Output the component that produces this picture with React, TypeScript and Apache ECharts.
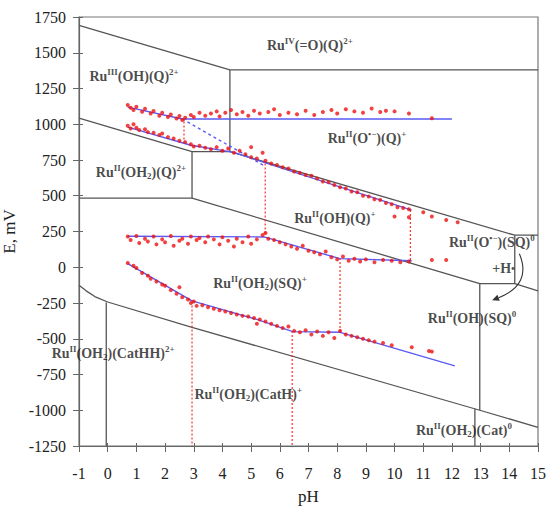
import React, { useEffect, useRef } from "react";
import * as echarts from "echarts";

// ---------- boundary lines of the Pourbaix diagram (pH, E/mV) ----------
const boundaryTop = [[-1, 1692], [4.26, 1380], [15, 1380]];
const boundaryTopVert = [[4.26, 1380], [4.26, 808]];
const boundaryB = [[-1, 1042], [2.94, 808], [4.26, 808], [14.19, 224], [15, 224]];
const boundaryBVert = [[14.19, 224], [14.19, -115]];
const boundaryQ2Box = [[-1, 483], [2.94, 483], [2.94, 808]];
const boundaryC = [[2.94, 483], [12.97, -115], [14.19, -115], [15, -165]];
const boundaryCVert = [[12.97, -115], [12.97, -1000]];
const boundaryD = [[-1, -126], [-0.75, -165], [-0.45, -205], [0, -243], [2.94, -420], [12.97, -1000], [15, -1119]];
const boundaryPh0 = [[-0.05, -246], [-0.05, -1250]];
const boundaryCat = [[12.8, -990], [12.8, -1250]];

// ---------- red dotted guide lines ----------
const guide1 = [[2.66, 1020], [2.66, 862]];
const guide2 = [[5.49, 725], [5.49, 235]];
const guide3 = [[10.55, 400], [10.55, 35]];
const guide4 = [[8.1, 65], [8.1, -455]];
const guide5 = [[2.94, -240], [2.94, -1250]];
const guide6 = [[6.43, -445], [6.43, -1250]];

// ---------- blue fitted lines ----------
const fitUpper = [[0.7, 1120], [2.6, 1037], [12, 1037]];
const fitUpperDash = [[2.6, 1037], [5.5, 705]];
const fitMiddle = [[0.7, 980], [2.9, 853], [4.4, 803], [5.5, 730], [10.6, 400]];
const fitThird = [[0.7, 217], [5.45, 212], [8.1, 60], [10.6, 45]];
const fitLower = [[0.7, 25], [2.94, -235], [5.2, -365], [6.45, -450], [8.1, -455], [12.1, -690]];

// ---------- measured points ----------
const ptsUpper = [
  [0.7, 1135], [0.8, 1115], [0.9, 1100], [1.0, 1122], [1.2, 1088], [1.3, 1108], [1.5, 1075], [1.6, 1093],
  [1.8, 1060], [1.9, 1080], [2.1, 1050], [2.2, 1068], [2.4, 1040], [2.5, 1058], [2.6, 1030], [2.7, 1046],
  [2.9, 1065], [3.0, 1050], [3.2, 1080], [3.4, 1060], [3.6, 1075], [3.8, 1090], [3.9, 1055], [4.1, 1080],
  [4.3, 1100], [4.5, 1070], [4.7, 1085], [4.9, 1060], [5.1, 1095], [5.3, 1075], [5.6, 1085], [5.8, 1105],
  [6.0, 1065], [6.3, 1080], [6.6, 1070], [6.9, 1095], [7.2, 1065], [7.5, 1085], [7.8, 1100], [8.0, 1075],
  [8.3, 1105], [8.6, 1090], [8.9, 1080], [9.2, 1110], [9.5, 1085], [9.7, 1095], [10.0, 1090], [10.5, 1075],
  [11.3, 1042],
];
const ptsMiddle = [
  [0.7, 990], [0.8, 970], [0.9, 1000], [1.0, 975], [1.1, 960], [1.3, 965], [1.4, 945], [1.6, 940],
  [1.8, 925], [1.9, 935], [2.1, 910], [2.3, 900], [2.5, 885], [2.7, 875], [2.9, 860], [3.0, 845],
  [3.2, 850], [3.4, 835], [3.6, 825], [3.8, 840], [4.0, 815], [4.2, 830], [4.4, 800], [4.6, 815],
  [4.8, 790], [5.0, 840], [5.0, 770], [5.2, 760], [5.4, 800], [5.5, 745], [5.7, 725], [5.9, 715],
  [6.1, 700], [6.3, 690], [6.5, 670], [6.7, 660], [6.9, 645], [7.1, 640], [7.3, 620], [7.5, 600],
  [7.7, 595], [7.9, 575], [8.1, 560], [8.3, 550], [8.5, 530], [8.7, 525], [8.9, 500], [9.1, 495],
  [9.3, 475], [9.5, 470], [9.7, 450], [9.9, 440], [10.1, 420], [10.3, 415], [10.5, 405], [10.0, 355],
  [10.5, 350], [11.0, 385], [11.3, 355], [11.8, 330], [12.2, 315],
];
const ptsThird = [
  [0.7, 215], [0.8, 190], [1.0, 218], [1.1, 170], [1.3, 200], [1.4, 180], [1.6, 215], [1.7, 160],
  [1.9, 195], [2.0, 175], [2.2, 218], [2.3, 150], [2.5, 185], [2.6, 200], [2.8, 165], [2.9, 215],
  [3.1, 190], [3.2, 205], [3.4, 175], [3.5, 215], [3.7, 195], [3.9, 160], [4.0, 210], [4.2, 185],
  [4.4, 145], [4.5, 200], [4.7, 175], [4.9, 215], [5.0, 165], [5.2, 195], [5.4, 225], [5.5, 240],
  [5.6, 200], [5.8, 190], [6.0, 175], [6.2, 160], [6.4, 145], [6.6, 130], [6.8, 150], [7.0, 115],
  [7.2, 105], [7.4, 90], [7.6, 110], [7.8, 70], [8.0, 55], [8.2, 75], [8.4, 45], [8.6, 60],
  [8.8, 40], [9.0, 55], [9.3, 35], [9.6, 50], [9.9, 45], [10.2, 35], [10.5, 40], [11.3, 50], [11.8, 50],
];
const ptsLower = [
  [0.7, 30], [0.9, 10], [1.0, -5], [1.2, -40], [1.4, -60], [1.5, -80], [1.7, -100], [1.9, -120],
  [2.0, -130], [2.2, -160], [2.4, -185], [2.5, -140], [2.6, -210], [2.8, -225], [2.9, -250], [3.0, -240],
  [3.1, -270], [3.3, -265], [3.5, -280], [3.7, -290], [3.9, -300], [4.1, -310], [4.3, -320], [4.5, -330],
  [4.7, -340], [4.9, -345], [5.1, -355], [5.2, -395], [5.3, -365], [5.5, -380], [5.7, -395], [5.9, -410],
  [6.1, -425], [6.3, -415], [6.5, -445], [6.7, -455], [6.9, -440], [7.1, -470], [7.3, -450], [7.5, -480],
  [7.7, -455], [7.9, -495], [8.1, -445], [8.3, -470], [8.5, -480], [8.7, -490], [8.9, -500], [9.1, -510],
  [9.3, -520], [9.6, -530], [9.9, -545], [10.6, -560], [11.2, -585], [11.3, -590],
];

// ---------- region labels (pH, E, rich text) ----------
const regionLabels = [
  [7.05, 1552, "{b|Ru}{s|IV}{b|(=O)(Q)}{s|2+}"],
  [0.92, 1336, "{b|Ru}{s|III}{b|(OH)(Q)}{s|2+}"],
  [9.04, 902, "{b|Ru}{s|II}{b|(O}{s|•−}{b|)(Q)}{s|+}"],
  [1.16, 664, "{b|Ru}{s|II}{b|(OH}{d|2}{b|)(Q)}{s|2+}"],
  [7.92, 343, "{b|Ru}{s|II}{b|(OH)(Q)}{s|+}"],
  [13.39, 175, "{b|Ru}{s|II}{b|(O}{s|•−}{b|)(SQ)}{s|0}"],
  [13.8, -7, "{b|+H}{m|•}"],
  [5.31, -112, "{b|Ru}{s|II}{b|(OH}{d|2}{b|)(SQ)}{s|+}"],
  [12.7, -357, "{b|Ru}{s|II}{b|(OH)(SQ)}{s|0}"],
  [0.19, -601, "{b|Ru}{s|II}{b|(OH}{d|2}{b|)(CatHH)}{s|2+}"],
  [4.9, -888, "{b|Ru}{s|II}{b|(OH}{d|2}{b|)(CatH)}{s|+}"],
  [12.42, -1140, "{b|Ru}{s|II}{b|(OH}{d|2}{b|)(Cat)}{s|0}"],
];

// arrow (+H•) path points in data coordinates: start, control, end
const arrowPts = [[14.35, 95], [14.8, -120], [13.4, -231]];

const FONT = "Liberation Serif";

export default function App() {
  const ref = useRef<HTMLDivElement>(null);

  useEffect(() => {
    if (!ref.current) return;
    const chart = echarts.init(ref.current, undefined, { renderer: "svg" });

    const grayLine = (data: number[][]) => ({
      type: "line",
      data,
      symbol: "none",
      silent: true,
      lineStyle: { color: "#555", width: 1.3 },
      z: 2,
    });
    const redGuide = (data: number[][]) => ({
      type: "line",
      data,
      symbol: "none",
      silent: true,
      lineStyle: { color: "#ff2a2a", width: 1.2, type: [2, 2] },
      z: 2,
    });
    const blueLine = (data: number[][], dashed = false) => ({
      type: "line",
      data,
      symbol: "none",
      silent: true,
      lineStyle: { color: "#5a5af5", width: 1.4, type: dashed ? [3, 3] : "solid" },
      z: 3,
    });
    const dots = (data: number[][]) => ({
      type: "scatter",
      data,
      symbol: "circle",
      symbolSize: 4,
      silent: true,
      itemStyle: { color: "#ee1111" },
      z: 4,
    });

    const plain = (v: number) => String(v);

    chart.setOption({
      animation: false,
      backgroundColor: "#fff",
      textStyle: { fontFamily: FONT },
      grid: {
        left: 79,
        right: 12,
        top: 17,
        bottom: 62,
        containLabel: false,
        outerBoundsMode: "none",
        show: true,
        borderColor: "#777",
        borderWidth: 1.2,
      },
      xAxis: [
        {
          type: "value",
          min: -1,
          max: 15,
          interval: 1,
          position: "bottom",
          axisLine: { show: true, onZero: false, lineStyle: { color: "#666", width: 1.2 } },
          splitLine: { show: false },
          axisTick: { show: true, length: 6, lineStyle: { color: "#666" } },
          axisLabel: { color: "#222", fontFamily: FONT, fontSize: 16, margin: 19, formatter: plain },
          name: "pH",
          nameLocation: "middle",
          nameGap: 42,
          nameTextStyle: { color: "#222", fontFamily: FONT, fontSize: 17 },
        },
        {
          type: "value",
          min: -1,
          max: 15,
          interval: 1,
          position: "bottom",
          axisLine: { show: false, onZero: false },
          splitLine: { show: false },
          axisTick: { show: true, inside: true, length: 3, lineStyle: { color: "#666" } },
          axisLabel: { show: false },
        },
      ],
      yAxis: [
        {
          type: "value",
          min: -1250,
          max: 1750,
          interval: 250,
          position: "left",
          axisLine: { show: true, onZero: false, lineStyle: { color: "#666", width: 1.2 } },
          splitLine: { show: false },
          axisTick: { show: true, length: 6, lineStyle: { color: "#666" } },
          axisLabel: { color: "#222", fontFamily: FONT, fontSize: 16, margin: 13, formatter: plain },
          name: "E, mV",
          nameLocation: "middle",
          nameRotate: 90,
          nameGap: 54,
          nameTextStyle: { color: "#222", fontFamily: FONT, fontSize: 17 },
        },
        {
          type: "value",
          min: -1250,
          max: 1750,
          interval: 250,
          position: "left",
          axisLine: { show: false, onZero: false },
          splitLine: { show: false },
          axisTick: { show: true, inside: true, length: 4, lineStyle: { color: "#666" } },
          axisLabel: { show: false },
        },
      ],
      series: [
        grayLine(boundaryTop),
        grayLine(boundaryTopVert),
        grayLine(boundaryB),
        grayLine(boundaryBVert),
        grayLine(boundaryQ2Box),
        grayLine(boundaryC),
        grayLine(boundaryCVert),
        grayLine(boundaryD),
        grayLine(boundaryPh0),
        grayLine(boundaryCat),
        redGuide(guide1),
        redGuide(guide2),
        redGuide(guide3),
        redGuide(guide4),
        redGuide(guide5),
        redGuide(guide6),
        blueLine(fitUpper),
        blueLine(fitUpperDash, true),
        blueLine(fitMiddle),
        blueLine(fitThird),
        blueLine(fitLower),
        dots(ptsUpper),
        dots(ptsMiddle),
        dots(ptsThird),
        dots(ptsLower),
        {
          type: "scatter",
          silent: true,
          symbolSize: 1,
          itemStyle: { color: "rgba(0,0,0,0)" },
          z: 6,
          data: regionLabels.map((l) => ({ value: [l[0], l[1]], name: l[2] })),
          label: {
            show: true,
            position: "inside",
            formatter: (p: any) => p.name,
            rich: {
              b: { fontFamily: FONT, fontSize: 14, fontWeight: "bold", color: "#1a1a1a", lineHeight: 17 },
              s: { fontFamily: FONT, fontSize: 9, fontWeight: "bold", color: "#1a1a1a", lineHeight: 10, verticalAlign: "top" },
              d: { fontFamily: FONT, fontSize: 9, fontWeight: "bold", color: "#1a1a1a", lineHeight: 10, verticalAlign: "bottom" },
              m: { fontFamily: FONT, fontSize: 11, fontWeight: "bold", color: "#1a1a1a", lineHeight: 17 },
            },
          },
        },
      ],
    });

    // curved arrow for +H•
    const px = arrowPts.map((p) => chart.convertToPixel({ xAxisIndex: 0, yAxisIndex: 0 }, p) as number[]);
    const [s, c, e] = px;
    const dx = e[0] - c[0];
    const dy = e[1] - c[1];
    const len = Math.sqrt(dx * dx + dy * dy) || 1;
    const ux = dx / len;
    const uy = dy / len;
    const head = 7;
    const half = 3.2;
    const bx = e[0] - ux * head;
    const by = e[1] - uy * head;
    chart.setOption({
      graphic: [
        {
          type: "bezierCurve",
          silent: true,
          shape: { x1: s[0], y1: s[1], cpx1: c[0], cpy1: c[1], x2: bx, y2: by },
          style: { stroke: "#333", lineWidth: 1.1, fill: null },
          z: 10,
        },
        {
          type: "polygon",
          silent: true,
          shape: {
            points: [
              [e[0], e[1]],
              [bx - uy * half, by + ux * half],
              [bx + uy * half, by - ux * half],
            ],
          },
          style: { fill: "#333" },
          z: 10,
        },
      ],
    });

    return () => chart.dispose();
  }, []);

  return (
    <div
      ref={ref}
      style={{ position: "fixed", left: 0, top: 0, width: 550, height: 508, background: "#fff" }}
    />
  );
}
